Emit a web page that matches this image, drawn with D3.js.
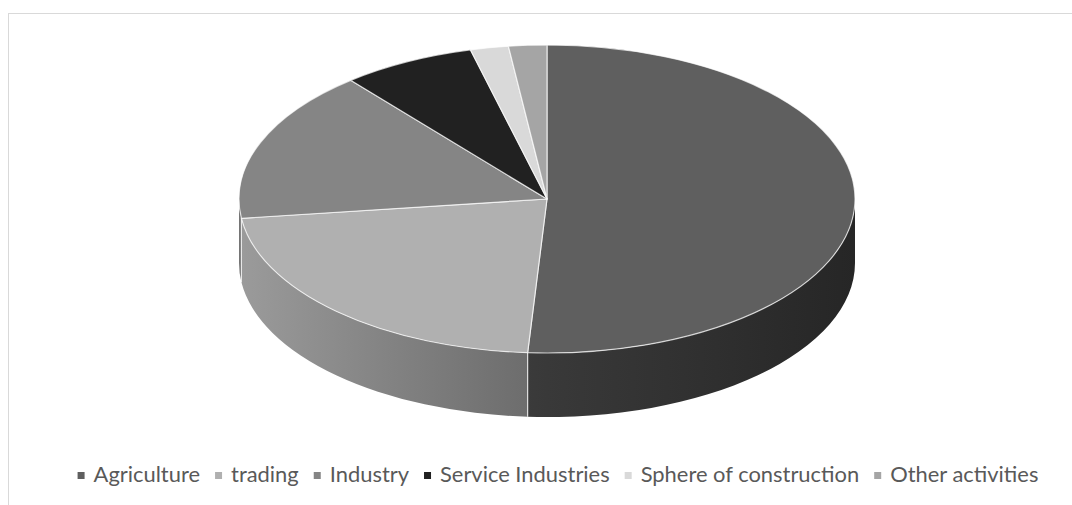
<!DOCTYPE html>
<html>
<head>
<meta charset="utf-8">
<script src="https://cdn.jsdelivr.net/npm/d3@7/dist/d3.min.js"></script>
<style>
  html, body { margin: 0; padding: 0; background: #fff; }
  svg { display: block; }
</style>
</head>
<body>
<svg id="chart" width="1072" height="505"></svg>
<script>
// ---- data ----
const categories = ["Agriculture", "trading", "Industry", "Service Industries", "Sphere of construction", "Other activities"];
const values = [51, 22, 16, 7, 2, 2];
const colors = ["#5f5f5f", "#b0b0b0", "#858585", "#212121", "#d9d9d9", "#a5a5a5"];

// ---- layout ----
const W = 1072, H = 505;
const cx = 547, cy = 199, rx = 308, ry = 154, depth = 64;

const svg = d3.select("#chart");

// chart border
svg.append("rect")
  .attr("x", 8.5).attr("y", 13.5)
  .attr("width", W).attr("height", H)
  .attr("fill", "none").attr("stroke", "#d9d9d9").attr("stroke-width", 1);

const pie = d3.pie().sort(null).value(d => d.v).startAngle(0).endAngle(2 * Math.PI);
const arcs = pie(categories.map((c, i) => ({ c, v: values[i], col: colors[i] })));

const px = a => cx + rx * Math.sin(a);
const py = (a, z) => cy - ry * Math.cos(a) + (z || 0);

// gradients for side faces
const defs = svg.append("defs");
const shade = d3.scaleLinear().domain([0, 0.5, 1]).range([0.88, 0.6, 0.4]);
arcs.forEach((d, i) => {
  const g = defs.append("linearGradient")
    .attr("id", "side" + i)
    .attr("gradientUnits", "userSpaceOnUse")
    .attr("x1", cx - rx).attr("x2", cx + rx).attr("y1", 0).attr("y2", 0);
  const base = d3.rgb(d.data.col);
  [0, 0.25, 0.5, 0.75, 1].forEach(t => {
    const f = shade(t);
    g.append("stop").attr("offset", t)
      .attr("stop-color", d3.rgb(base.r * f, base.g * f, base.b * f).formatHex());
  });
});

// side faces (front half: angles between PI/2 and 3PI/2)
const sideG = svg.append("g");
arcs.forEach((d, i) => {
  const a0 = Math.max(d.startAngle, Math.PI / 2);
  const a1 = Math.min(d.endAngle, 3 * Math.PI / 2);
  if (a1 <= a0) return;
  const large = (a1 - a0) > Math.PI ? 1 : 0;
  const p = [
    "M", px(a0), py(a0),
    "A", rx, ry, 0, large, 1, px(a1), py(a1),
    "L", px(a1), py(a1, depth),
    "A", rx, ry, 0, large, 0, px(a0), py(a0, depth),
    "Z"
  ].join(" ");
  sideG.append("path").attr("d", p).attr("fill", `url(#side${i})`);
});
// vertical separators on sides
arcs.forEach(d => {
  const a = d.startAngle;
  if (a > Math.PI / 2 && a < 3 * Math.PI / 2) {
    sideG.append("line")
      .attr("x1", px(a)).attr("x2", px(a))
      .attr("y1", py(a)).attr("y2", py(a, depth))
      .attr("stroke", "#ffffff").attr("stroke-opacity", 0.75).attr("stroke-width", 1.2);
  }
});

// top faces
const topG = svg.append("g");
arcs.forEach(d => {
  const a0 = d.startAngle, a1 = d.endAngle;
  const large = (a1 - a0) > Math.PI ? 1 : 0;
  const p = [
    "M", cx, cy,
    "L", px(a0), py(a0),
    "A", rx, ry, 0, large, 1, px(a1), py(a1),
    "Z"
  ].join(" ");
  topG.append("path").attr("d", p)
    .attr("fill", d.data.col)
    .attr("stroke", "#ffffff").attr("stroke-opacity", 0.7)
    .attr("stroke-width", 1.2).attr("stroke-linejoin", "round");
});

// ---- legend ----
const legend = svg.append("g").attr("font-family", "Lato, 'Open Sans', sans-serif")
  .attr("fill", "#595959");
const legendY = 482, markerSize = 7, gapAfterMarker = 9, gapBetween = 15;
const targetTextWidth = 790;
const items = legend.selectAll("g.item").data(arcs).join("g").attr("class", "item");
items.append("rect").attr("width", markerSize).attr("height", markerSize)
  .attr("y", legendY - 10).attr("fill", d => d.data.col);
items.append("text").attr("y", legendY).attr("font-size", 20).text(d => d.data.c);
let measured = 0;
items.select("text").each(function () { measured += this.getComputedTextLength(); });
const fs = 20 * targetTextWidth / measured;
items.select("text").attr("font-size", fs);
const widths = [];
items.select("text").each(function () { widths.push(this.getComputedTextLength()); });
let total = 0;
widths.forEach((w, i) => { total += markerSize + gapAfterMarker + w + (i < widths.length - 1 ? gapBetween : 0); });
let x = (W - total) / 2 + 22;
items.each(function (d, i) {
  const g = d3.select(this);
  g.select("rect").attr("x", x);
  g.select("text").attr("x", x + markerSize + gapAfterMarker);
  x += markerSize + gapAfterMarker + widths[i] + gapBetween;
});
</script>
</body>
</html>
